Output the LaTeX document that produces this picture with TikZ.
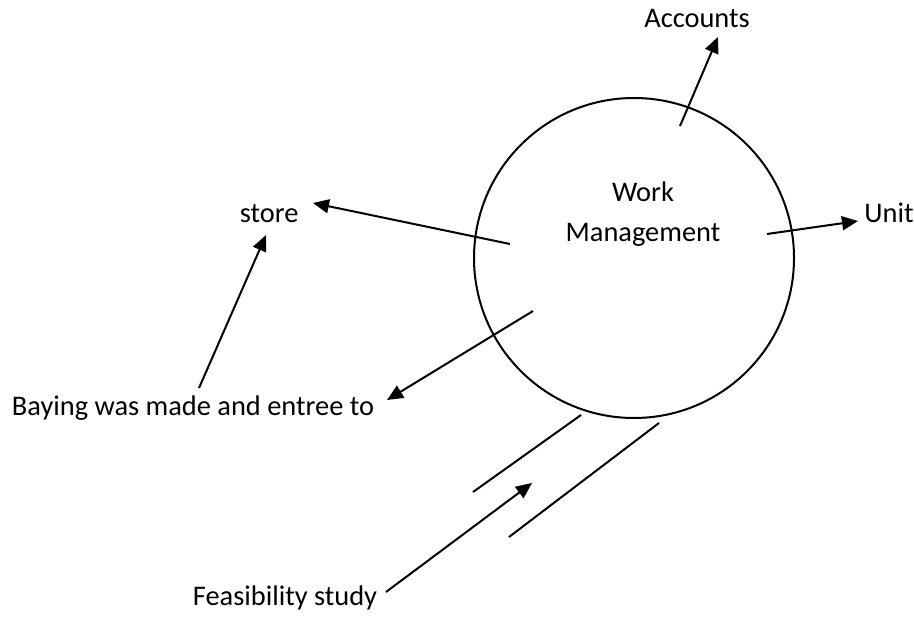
\documentclass[tikz,border=0pt]{standalone}
\usepackage{fontspec}
\setmainfont{Carlito}
\usetikzlibrary{arrows.meta}

\tikzset{
	flow/.style={line width=1pt, -{Triangle[length=8pt,width=7pt]}},
	wall/.style={line width=1pt},
	lbl/.style={inner sep=0pt, font=\fontsize{14.2}{20}\selectfont}
}

\begin{document}
\begin{tikzpicture}[x=50pt, y=50pt]

	\useasboundingbox (0, 0) rectangle (9.14, 6.16);

	% the process
	\node[draw, circle, line width=1pt, minimum size=160pt, inner sep=0pt] (wm) at (6.34, 3.58) {};
	\node[lbl, align=center, anchor=base] (wmtext) at (6.43, 3.74) {Work\\Management};

	% outside texts
	\node[lbl, anchor=base] (acc) at (6.97, 5.88) {Accounts};
	\node[lbl, anchor=base east] (store) at (2.99, 3.93) {store};
	\node[lbl, anchor=base west] (unit) at (8.64, 3.93) {Unit};
	\node[lbl, anchor=base] (buy) at (1.93, 2.01) {Baying was made and entree to};
	\node[lbl, anchor=base] (feas) at (2.85, 0.11) {Feasibility study};

	% arrow ends
	\coordinate (acc-in) at (6.80, 4.90);
	\coordinate (acc-tip) at (7.18, 5.79);
	\coordinate (store-in) at (5.10, 3.72);
	\coordinate (store-tip) at (3.13, 4.13);
	\coordinate (unit-in) at (7.67, 3.82);
	\coordinate (unit-tip) at (8.58, 3.95);
	\coordinate (buy-in) at (5.33, 3.05);
	\coordinate (buy-tip) at (3.87, 2.16);
	\coordinate (buy-out) at (1.99, 2.28);
	\coordinate (store-up) at (2.66, 3.81);
	\coordinate (feas-out) at (3.86, 0.24);
	\coordinate (feas-tip) at (5.32, 1.33);

	\draw[flow] (acc-in) -- (acc-tip);
	\draw[flow] (store-in) -- (store-tip);
	\draw[flow] (unit-in) -- (unit-tip);
	\draw[flow] (buy-in) -- (buy-tip);
	\draw[flow] (buy-out) -- (store-up);
	\draw[flow] (feas-out) -- (feas-tip);

	% the channel
	\coordinate (ch1a) at (4.73, 1.24);
	\coordinate (ch1b) at (5.81, 2.01);
	\coordinate (ch2a) at (5.09, 0.79);
	\coordinate (ch2b) at (6.59, 1.93);
	\draw[wall] (ch1a) -- (ch1b);
	\draw[wall] (ch2a) -- (ch2b);

\end{tikzpicture}
\end{document}
